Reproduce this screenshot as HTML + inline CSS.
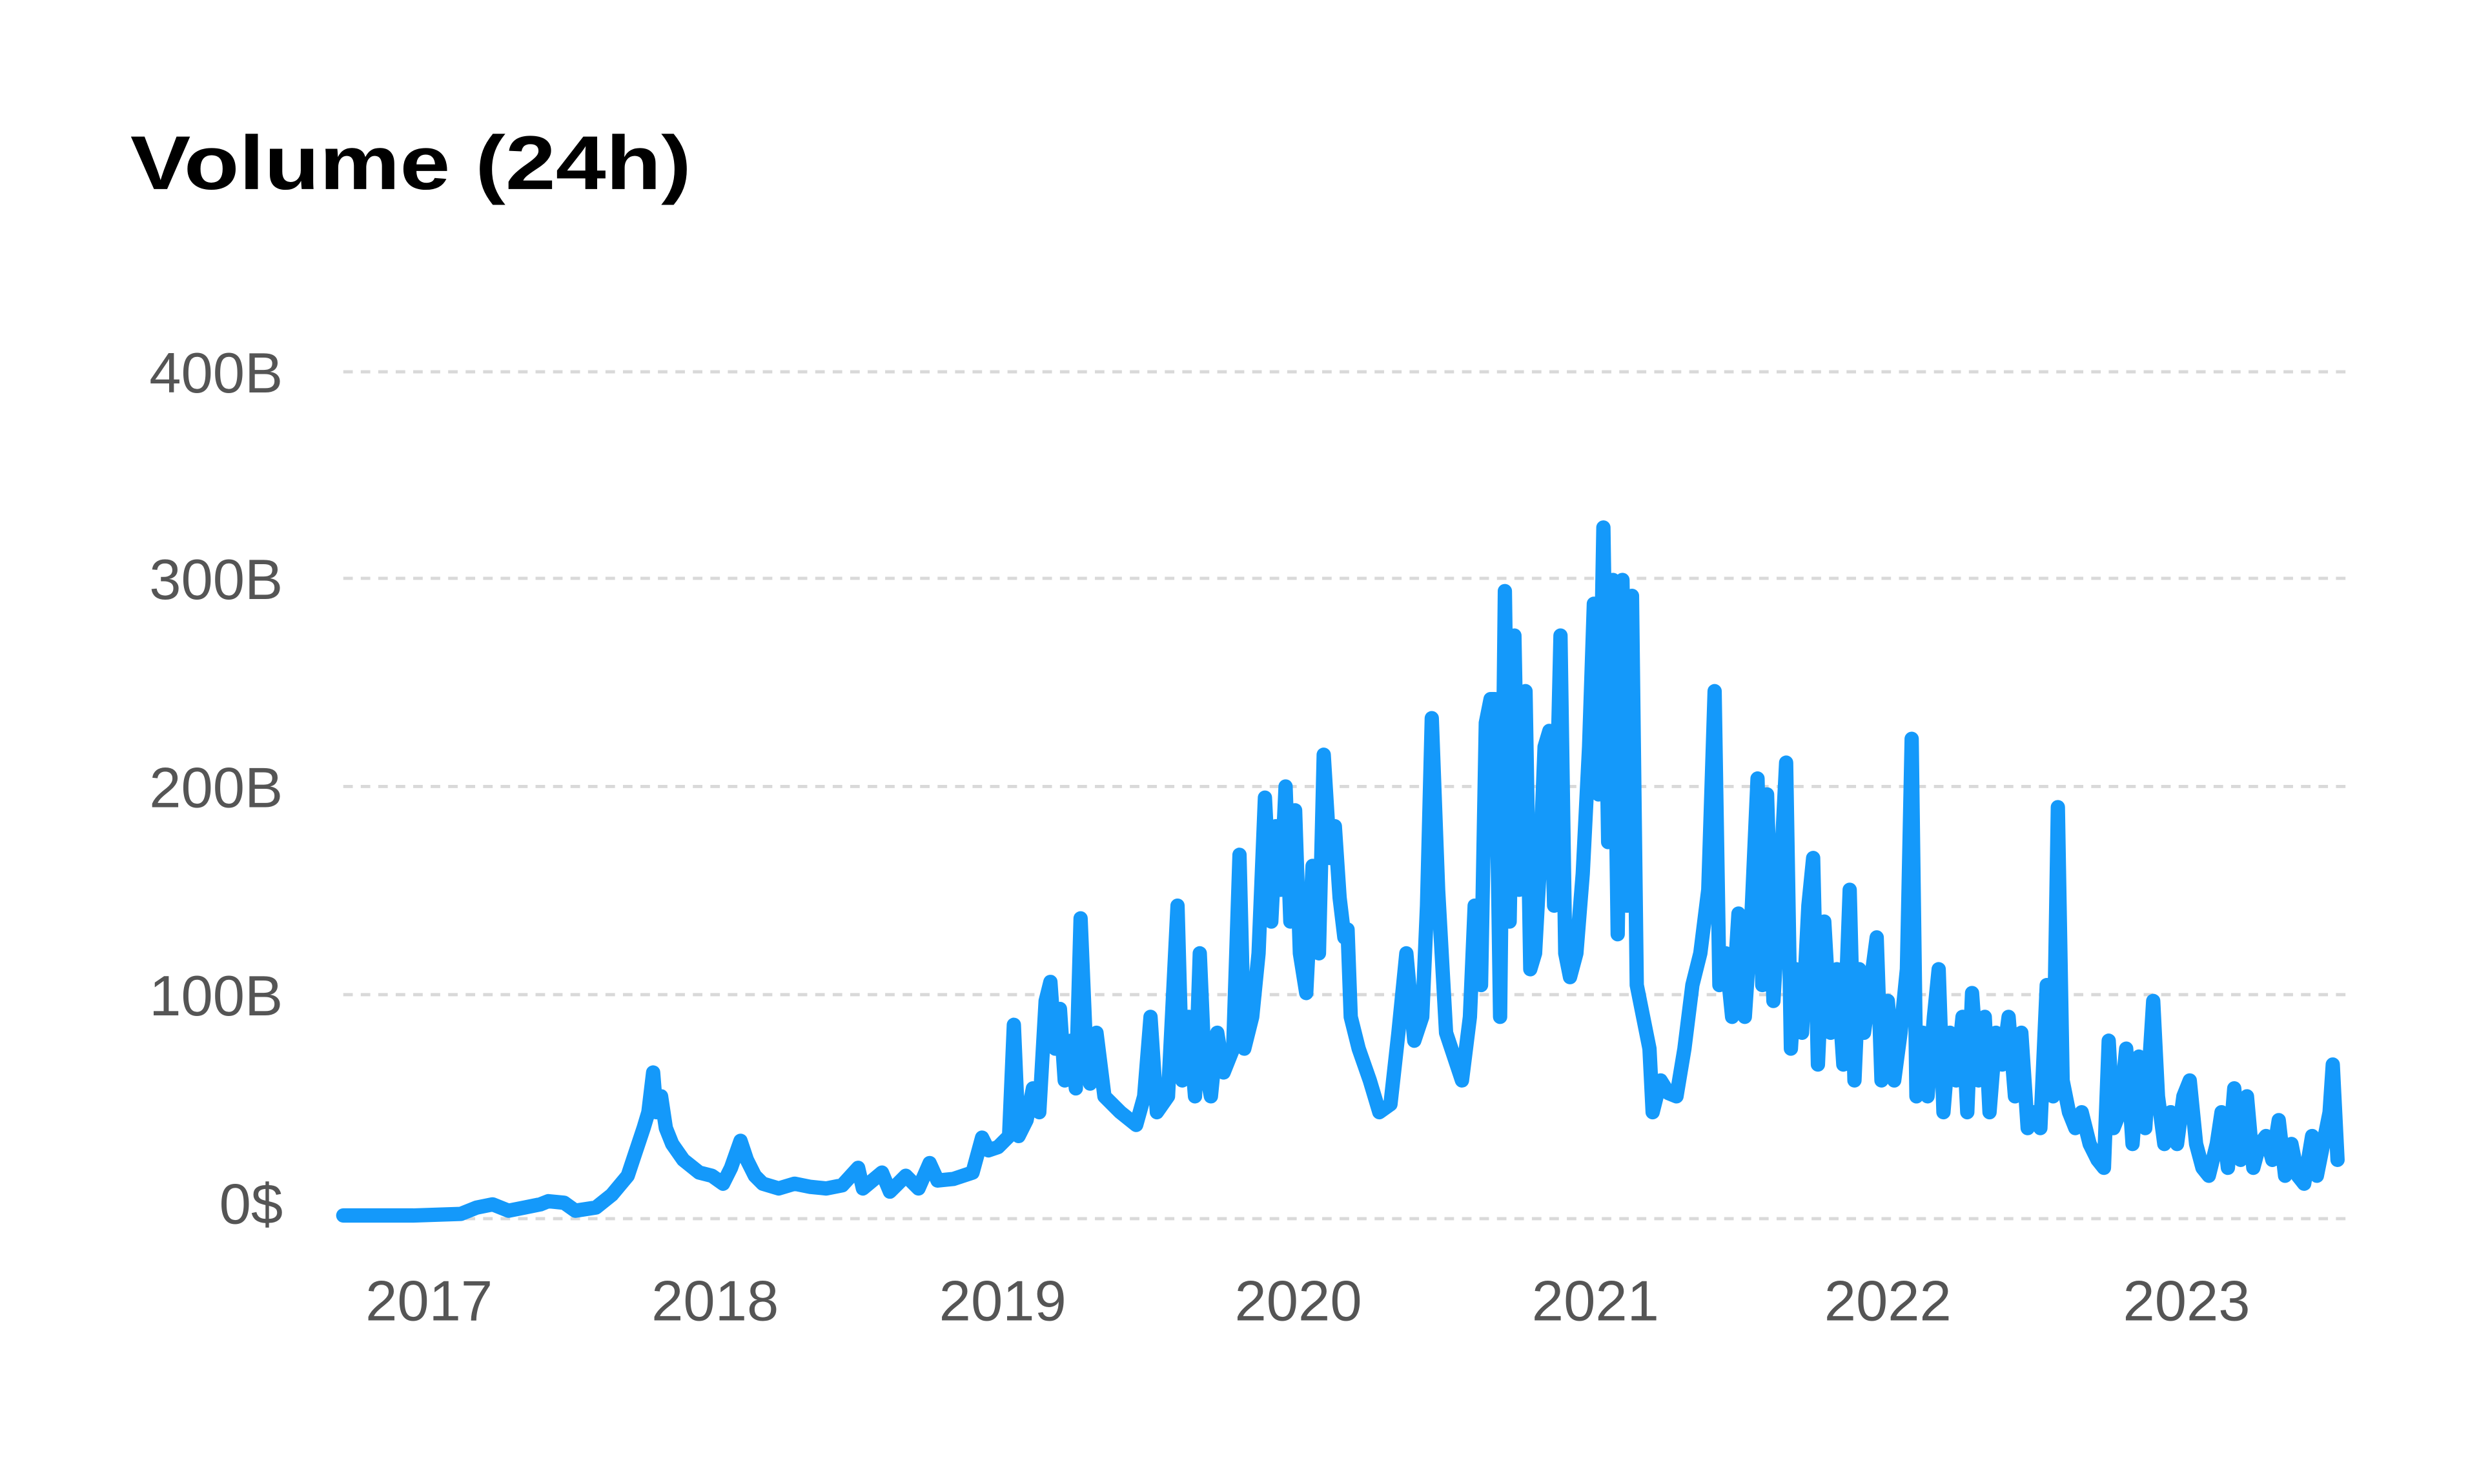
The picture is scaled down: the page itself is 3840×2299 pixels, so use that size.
<!DOCTYPE html>
<html><head><meta charset="utf-8"><style>html,body{margin:0;padding:0;background:#fff}svg{display:block}</style></head>
<body>
<svg width="3840" height="2299" viewBox="0 0 1560 934" xmlns="http://www.w3.org/2000/svg">
<rect width="1560" height="934" fill="#fff"/>
<text x="82" y="119" font-family="Liberation Sans, sans-serif" font-size="48" font-weight="bold" fill="#000" textLength="353" lengthAdjust="spacingAndGlyphs">Volume (24h)</text>
<g stroke="#d9d9d9" stroke-width="2" stroke-dasharray="6,5">
<line x1="216" y1="234" x2="1477" y2="234"/>
<line x1="216" y1="364" x2="1477" y2="364"/>
<line x1="216" y1="495" x2="1477" y2="495"/>
<line x1="216" y1="626" x2="1477" y2="626"/>
<line x1="216" y1="767" x2="1477" y2="767"/>
</g>
<g font-family="Liberation Sans, sans-serif" font-size="36" fill="#555" text-anchor="end">
<text x="178" y="247">400B</text>
<text x="178" y="377">300B</text>
<text x="178" y="508">200B</text>
<text x="178" y="639">100B</text>
<text x="178" y="770">0$</text>
</g>
<g font-family="Liberation Sans, sans-serif" font-size="36" fill="#555" text-anchor="middle">
<text x="270" y="831">2017</text>
<text x="450" y="831">2018</text>
<text x="631" y="831">2019</text>
<text x="817" y="831">2020</text>
<text x="1004" y="831">2021</text>
<text x="1188" y="831">2022</text>
<text x="1376" y="831">2023</text>
</g>
<polyline fill="none" stroke="#1499FA" stroke-width="9" stroke-linejoin="round" stroke-linecap="round" points="216,765 260,765 290,764 300,760 310,758 320,762 330,760 340,758 345,756 355,757 362,762 375,760 385,752 395,740 400,725 405,710 408,700 411,675 413,700 416,690 419,710 423,720 430,730 440,738 448,740 455,745 460,735 466,718 470,730 475,740 480,745 490,748 500,745 510,747 520,748 530,746 540,735 543,748 555,738 560,750 570,740 578,748 585,732 590,743 600,742 612,738 618,716 622,724 628,722 635,715 638,645 641,715 646,705 650,685 654,700 658,630 661,618 664,660 667,635 670,680 674,655 677,685 680,578 683,650 686,682 690,650 695,690 705,700 715,708 720,690 724,640 728,700 735,690 741,570 744,680 748,640 752,690 755,600 758,670 762,690 766,650 770,675 776,660 780,538 783,660 788,640 792,600 796,502 800,580 803,520 806,560 809,495 812,580 815,510 818,600 822,625 826,545 830,600 833,475 837,540 840,520 843,565 846,590 848,585 850,640 855,660 862,680 868,700 875,695 880,650 885,600 890,655 895,640 898,570 901,452 905,560 910,650 915,665 920,680 925,640 928,570 932,620 935,455 938,440 941,440 944,640 947,372 950,580 953,400 956,560 960,435 963,610 966,600 969,545 972,470 975,460 978,570 982,400 985,600 988,615 992,600 996,550 1000,470 1003,380 1006,500 1009,332 1012,530 1015,365 1018,588 1021,365 1024,570 1027,375 1030,620 1034,640 1038,660 1040,700 1045,680 1050,688 1055,690 1060,660 1065,620 1070,600 1075,560 1079,435 1082,620 1086,600 1090,640 1094,575 1098,640 1102,580 1106,490 1109,620 1112,500 1116,630 1120,560 1124,480 1127,660 1130,610 1134,650 1138,570 1141,540 1144,670 1148,580 1152,650 1156,610 1160,670 1164,560 1167,680 1170,610 1173,650 1177,620 1181,590 1184,680 1188,630 1192,680 1196,650 1200,610 1203,465 1206,690 1210,650 1213,690 1217,640 1220,610 1223,700 1227,650 1231,680 1235,640 1238,700 1241,625 1245,680 1249,640 1252,700 1256,650 1260,670 1264,640 1268,690 1272,650 1276,710 1280,700 1284,710 1288,620 1292,690 1295,508 1298,680 1302,700 1306,710 1310,700 1315,720 1320,730 1324,735 1327,655 1330,710 1334,700 1338,660 1342,720 1346,665 1350,710 1355,630 1358,690 1362,720 1366,700 1370,720 1374,690 1378,680 1382,720 1386,735 1390,740 1395,720 1398,700 1402,735 1406,685 1410,730 1414,690 1418,735 1422,720 1426,715 1430,730 1434,705 1438,740 1442,720 1446,740 1450,745 1455,715 1458,740 1462,720 1466,700 1468,670 1471,730"/>
</svg>
</body></html>
